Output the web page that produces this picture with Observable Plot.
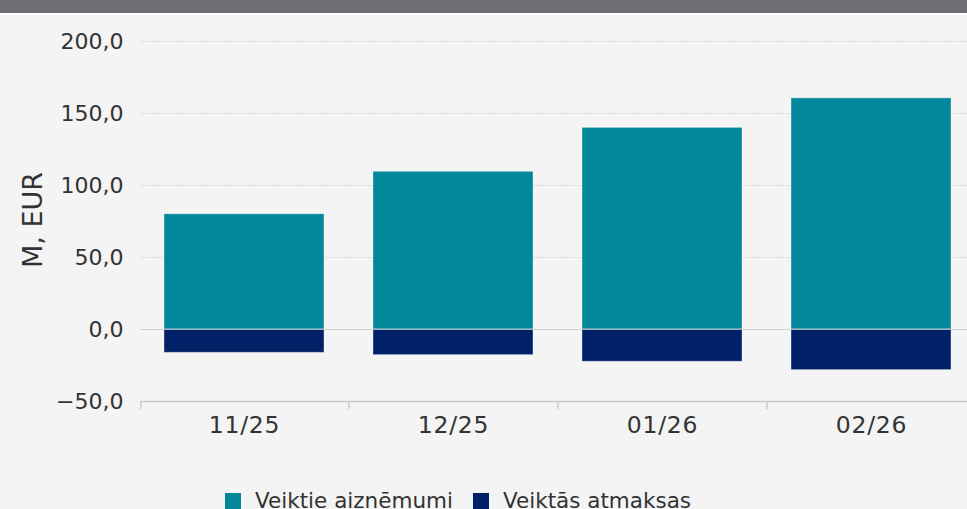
<!DOCTYPE html>
<html>
<head>
<meta charset="utf-8">
<script src="https://cdn.jsdelivr.net/npm/d3@7"></script>
<script src="https://cdn.jsdelivr.net/npm/@observablehq/plot@0.6"></script>
<style>
  html, body { margin: 0; padding: 0; width: 967px; height: 509px; overflow: hidden; background: #f4f4f4; font-family: "DejaVu Sans", sans-serif; }
  #topbar { position: absolute; left: 0; top: 0; width: 967px; height: 13px; background: #6d6e73; border-bottom: 2px solid #ffffff; }
  #chart { position: absolute; left: 0; top: 0; width: 976px; }
  #chart svg { max-width: none !important; }
  #ytitle { position: absolute; left: 32px; top: 220px; transform: translate(-50%, -50%) rotate(-90deg); font-size: 27px; color: #333; white-space: nowrap; }
  #legend { position: absolute; left: 225px; top: 488px; display: flex; align-items: center; font-size: 21.5px; color: #333; white-space: nowrap; }
  .sw { width: 16px; height: 16px; display: inline-block; margin-right: 14px; }
  .item { display: flex; align-items: center; margin-right: 20px; }
  .xlab text { letter-spacing: 0.8px; }
</style>
</head>
<body>
<div id="chart"></div>
<div id="topbar"></div>
<div id="ytitle">M, EUR</div>
<div id="legend"></div>
<script>
const categories = ["11/25", "12/25", "01/26", "02/26"];
const borrowings = [80.0, 109.5, 140.0, 160.5];
const repayments = [-16.2, -17.8, -22.4, -28.2];
const seriesNames = ["Veiktie aizn\u0113mumi", "Veikt\u0101s atmaksas"];
const seriesColors = ["#03879a", "#002168"];
const yTicks = [-50, 0, 50, 100, 150, 200];

const rows = [];
categories.forEach((c, i) => {
  rows.push({cat: c, series: seriesNames[0], value: borrowings[i]});
  rows.push({cat: c, series: seriesNames[1], value: repayments[i]});
});

const fmt = v => (v < 0 ? "\u2212" : "") + d3.format(".1f")(Math.abs(v)).replace(".", ",");

const chart = Plot.plot({
  width: 976,
  height: 470,
  marginLeft: 140,
  marginRight: 0,
  marginTop: 41,
  marginBottom: 69,
  style: {background: "transparent", fontFamily: "DejaVu Sans, sans-serif", color: "#333", maxWidth: "none"},
  x: {domain: categories, paddingInner: 0.234, paddingOuter: 0.117, label: null},
  y: {domain: [-50, 200], label: null},
  color: {domain: seriesNames, range: seriesColors},
  marks: [
    Plot.gridY(yTicks.filter(t => t > 0), {stroke: "#d8d8d8", strokeOpacity: 1, strokeDasharray: "2,1"}),
    Plot.barY(rows, {x: "cat", y: "value", fill: "series", stroke: "#ffffff", strokeOpacity: 0.35, strokeWidth: 1}),
    Plot.ruleY([0], {stroke: "#c8c8c8", strokeOpacity: 0.8}),
    Plot.ruleY([-50], {stroke: "#cccccc", strokeWidth: 1.5}),
    Plot.axisY({ticks: yTicks, tickSize: 0, tickPadding: 17, tickFormat: fmt, fontSize: 22, fill: "#333", label: null}),
    Plot.axisX({tickSize: 0, tickPadding: 15, fontSize: 23.5, fill: "#333", label: null, className: "xlab"})
  ]
});
document.getElementById("chart").appendChild(chart);

// category boundary ticks, from the band scale
const xs = chart.scale("x");
const ys = chart.scale("y");
const step = xs.step;
const x0 = xs.range[0];
const bottom = ys.range[0];
const svg = d3.select(chart);
const g = svg.append("g").attr("stroke", "#cccccc").attr("stroke-width", 1.5);
for (let i = 0; i <= categories.length; i++) {
  const x = x0 + i * step + (i === 0 ? 0.75 : 0);
  g.append("line").attr("x1", x).attr("x2", x).attr("y1", bottom).attr("y2", bottom + 8);
}

const leg = document.getElementById("legend");
seriesNames.forEach((n, i) => {
  const it = document.createElement("span");
  it.className = "item";
  const sw = document.createElement("span");
  sw.className = "sw";
  sw.style.background = seriesColors[i];
  it.appendChild(sw);
  it.appendChild(document.createTextNode(n));
  leg.appendChild(it);
});
</script>
</body>
</html>
